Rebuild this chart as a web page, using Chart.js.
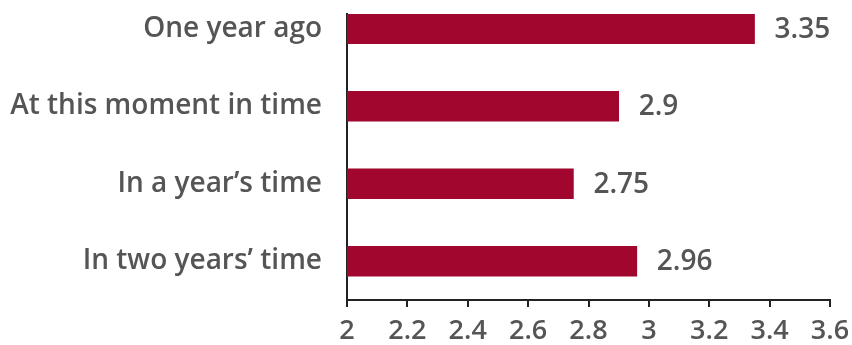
<!DOCTYPE html>
<html lang="en">
<head>
    <meta charset="UTF-8">
    <title>index.html</title>
    <style>
        html, body { margin: 0; padding: 0; background: #fff; }
        #wrap { width: 852px; height: 345px; }
    </style>
</head>
<body>
    <div id="wrap"><canvas id="myChart"></canvas></div>
    <script src="https://cdn.jsdelivr.net/npm/chart.js"></script>
    <script>
        let categories = ['One year ago', 'At this moment in time', 'In a year\u2019s time', 'In two years\u2019 time'];
        let values = [3.35, 2.9, 2.75, 2.96];
        let xTicks = [2, 2.2, 2.4, 2.6, 2.8, 3, 3.2, 3.4, 3.6];

        let textColor = '#555555';
        let fontFamily = '"Open Sans", sans-serif';

        // value labels at the end of every bar
        let valueLabels = {
            id: 'valueLabels',
            afterDatasetsDraw(chart) {
                let ctx = chart.ctx;
                let meta = chart.getDatasetMeta(0);
                ctx.save();
                ctx.fillStyle = textColor;
                ctx.font = '600 28px ' + fontFamily;
                ctx.textAlign = 'left';
                ctx.textBaseline = 'middle';
                meta.data.forEach((bar, i) => {
                    ctx.fillText(String(values[i]), bar.x + 20, bar.y + 1);
                });
                ctx.restore();
            }
        };

        let ctx = document.getElementById('myChart');
        let myChart = new Chart(ctx, {
            type: 'bar',
            data: {
                datasets: [{
                    data: values.map((v, i) => ({ x: v, y: i })),
                    backgroundColor: '#A0062E',
                    borderWidth: 0,
                    barThickness: 30
                }]
            },
            options: {
                indexAxis: 'y',
                responsive: true,
                maintainAspectRatio: false,
                animation: false,
                layout: { padding: { top: 14, right: 22, left: 0, bottom: 0 } },
                plugins: {
                    legend: { display: false },
                    tooltip: { enabled: false }
                },
                scales: {
                    x: {
                        type: 'linear',
                        min: xTicks[0],
                        max: xTicks[xTicks.length - 1],
                        afterBuildTicks: s => { s.ticks = xTicks.map(v => ({ value: v })); },
                        afterFit: s => { s.height = 45; s.paddingLeft = 0; s.paddingRight = 0; },
                        border: { display: true, color: '#222', width: 2 },
                        grid: { display: true, drawOnChartArea: false, drawTicks: true, tickLength: 7, color: '#222', lineWidth: 2 },
                        ticks: {
                            color: textColor,
                            font: { family: fontFamily, size: 27, weight: '600' },
                            padding: 8,
                            maxRotation: 0,
                            callback: v => String(+v.toFixed(1))
                        }
                    },
                    y: {
                        type: 'linear',
                        reverse: true,
                        offset: false,
                        min: -0.19,
                        max: 3.5,
                        afterBuildTicks: s => { s.ticks = categories.map((c, i) => ({ value: i })); },
                        afterFit: s => { s.width = 347; s.paddingTop = 0; s.paddingBottom = 0; },
                        border: { display: true, color: '#222', width: 2 },
                        grid: { display: false, drawTicks: false, offset: false },
                        ticks: {
                            color: textColor,
                            font: { family: fontFamily, size: 28, weight: '600' },
                            padding: 25,
                            callback: v => categories[v]
                        }
                    }
                }
            },
            plugins: [valueLabels]
        });
    </script>
</body>
</html>
